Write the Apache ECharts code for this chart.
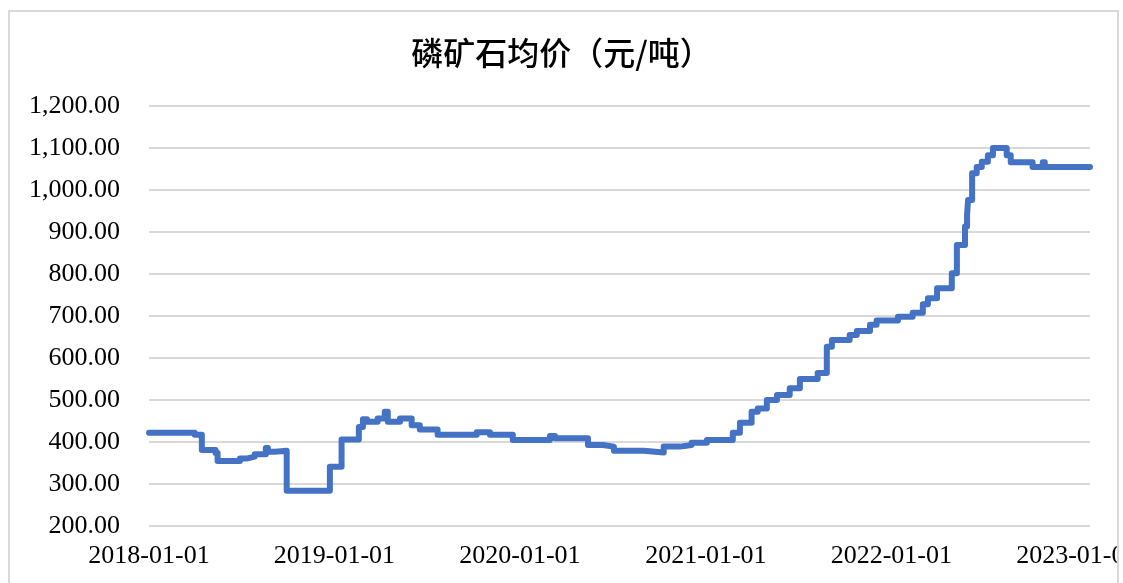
<!DOCTYPE html>
<html>
<head>
<meta charset="utf-8">
<script src="https://cdn.jsdelivr.net/npm/echarts@6/dist/echarts.min.js"></script>
<style>
  html, body { margin: 0; padding: 0; background: #fff; overflow: hidden; width: 1123px; height: 583px; }
  #frame {
    position: absolute; left: 8px; top: 10px; width: 1111px; height: 573px;
    box-sizing: border-box; border: 2px solid #d9d9d9; border-bottom: none; overflow: hidden;
  }
  #chart { position: absolute; left: -10px; top: -12px; width: 1123px; height: 583px; }
</style>
</head>
<body>
<div id="frame"><div id="chart"></div></div>
<script>
// dates where the price changes, value holds until the next date
const dates = [
  "2018-01-01", "2018-04-01", "2018-04-15", "2018-05-12", "2018-05-16", "2018-06-29",
  "2018-07-14", "2018-07-28", "2018-08-19", "2018-08-23", "2018-09-06", "2018-09-29",
  "2018-12-23", "2019-01-15", "2019-02-18", "2019-02-26", "2019-03-06", "2019-03-27",
  "2019-04-10", "2019-04-16", "2019-05-10", "2019-06-02", "2019-06-18", "2019-07-23",
  "2019-10-08", "2019-11-03", "2019-12-18", "2020-02-29", "2020-03-10", "2020-05-14",
  "2020-06-12", "2020-07-04", "2020-09-01", "2020-10-10", "2020-11-11", "2020-12-04",
  "2021-01-03", "2021-02-23", "2021-03-09", "2021-04-01", "2021-04-13", "2021-05-01",
  "2021-05-21", "2021-06-15", "2021-07-05", "2021-08-09", "2021-08-27", "2021-09-06",
  "2021-10-11", "2021-10-25", "2021-11-20", "2021-12-03", "2022-01-14", "2022-02-12",
  "2022-03-04", "2022-03-14", "2022-04-01", "2022-04-30", "2022-05-10", "2022-05-26",
  "2022-05-30", "2022-06-01", "2022-06-09", "2022-06-18", "2022-06-28", "2022-07-10",
  "2022-07-20", "2022-08-16", "2022-08-24", "2022-10-06", "2022-10-26", "2022-10-30",
  "2023-01-27"
]
const prices = [
  422, 417, 381, 374, 355, 361, 365, 371, 386, 377, 379, 284,
  341, 406, 436, 454, 448, 456, 472, 448, 456, 440, 430, 417,
  423, 417, 405, 414, 409, 393, 389, 379, 375, 389, 393, 398,
  405, 422, 446, 472, 480, 500, 512, 528, 550, 564, 627, 643,
  655, 664, 679, 689, 698, 708, 728, 742, 766, 802, 869, 913,
  940, 976, 1040, 1055, 1067, 1083, 1100, 1083, 1066, 1055, 1066, 1055,
  1055
]
const xTicks = ["2018-01-01", "2019-01-01", "2020-01-01", "2021-01-01", "2022-01-01", "2023-01-01"]
const yTicks = [200, 300, 400, 500, 600, 700, 800, 900, 1000, 1100, 1200]

const serif = "Liberation Serif"
const ts = d => echarts.number.parseDate(d).getTime()

function fmtNum(v) {
  const parts = v.toFixed(2).split(".")
  return parts[0].replace(/\B(?=(\d{3})+(?!\d))/g, ",") + "." + parts[1]
}

function fmtDate(v) {
  const d = new Date(Math.round(v))
  const p = n => String(n).padStart(2, "0")
  return d.getFullYear() + "-" + p(d.getMonth() + 1) + "-" + p(d.getDate())
}

const chart = echarts.init(document.getElementById("chart"), null, { renderer: "canvas", width: 1123, height: 583 })

chart.setOption({
  animation: false,
  title: {
    text: "磷矿石均价（元/吨）",
    left: "center",
    top: 32,
    textStyle: { fontFamily: "Noto Sans CJK SC", fontSize: 32, fontWeight: 500, color: "#000" }
  },
  grid: { left: 149, right: 33, top: 106, bottom: 57, containLabel: false, outerBoundsMode: "none" },
  xAxis: {
    type: "value",
    min: ts(dates[0]),
    max: ts(dates[dates.length - 1]),
    axisLine: { show: false },
    axisTick: { show: false },
    splitLine: { show: false },
    axisLabel: {
      customValues: xTicks.map(ts),
      formatter: fmtDate,
      fontFamily: serif,
      fontSize: 26,
      color: "#000",
      margin: 17
    }
  },
  yAxis: {
    type: "value",
    min: yTicks[0],
    max: yTicks[yTicks.length - 1],
    interval: 100,
    axisLine: { show: false },
    axisTick: { show: false },
    splitLine: { lineStyle: { color: "#d9d9d9", width: 2 } },
    axisLabel: {
      formatter: fmtNum,
      fontFamily: serif,
      fontSize: 26,
      color: "#000",
      margin: 29
    }
  },
  series: [
    {
      name: "磷矿石均价",
      type: "line",
      step: "end",
      symbol: "none",
      lineStyle: { color: "#4472C4", width: 6, cap: "round", join: "round" },
      data: dates.map((d, i) => [ts(d), prices[i]])
    }
  ]
})
</script>
</body>
</html>
